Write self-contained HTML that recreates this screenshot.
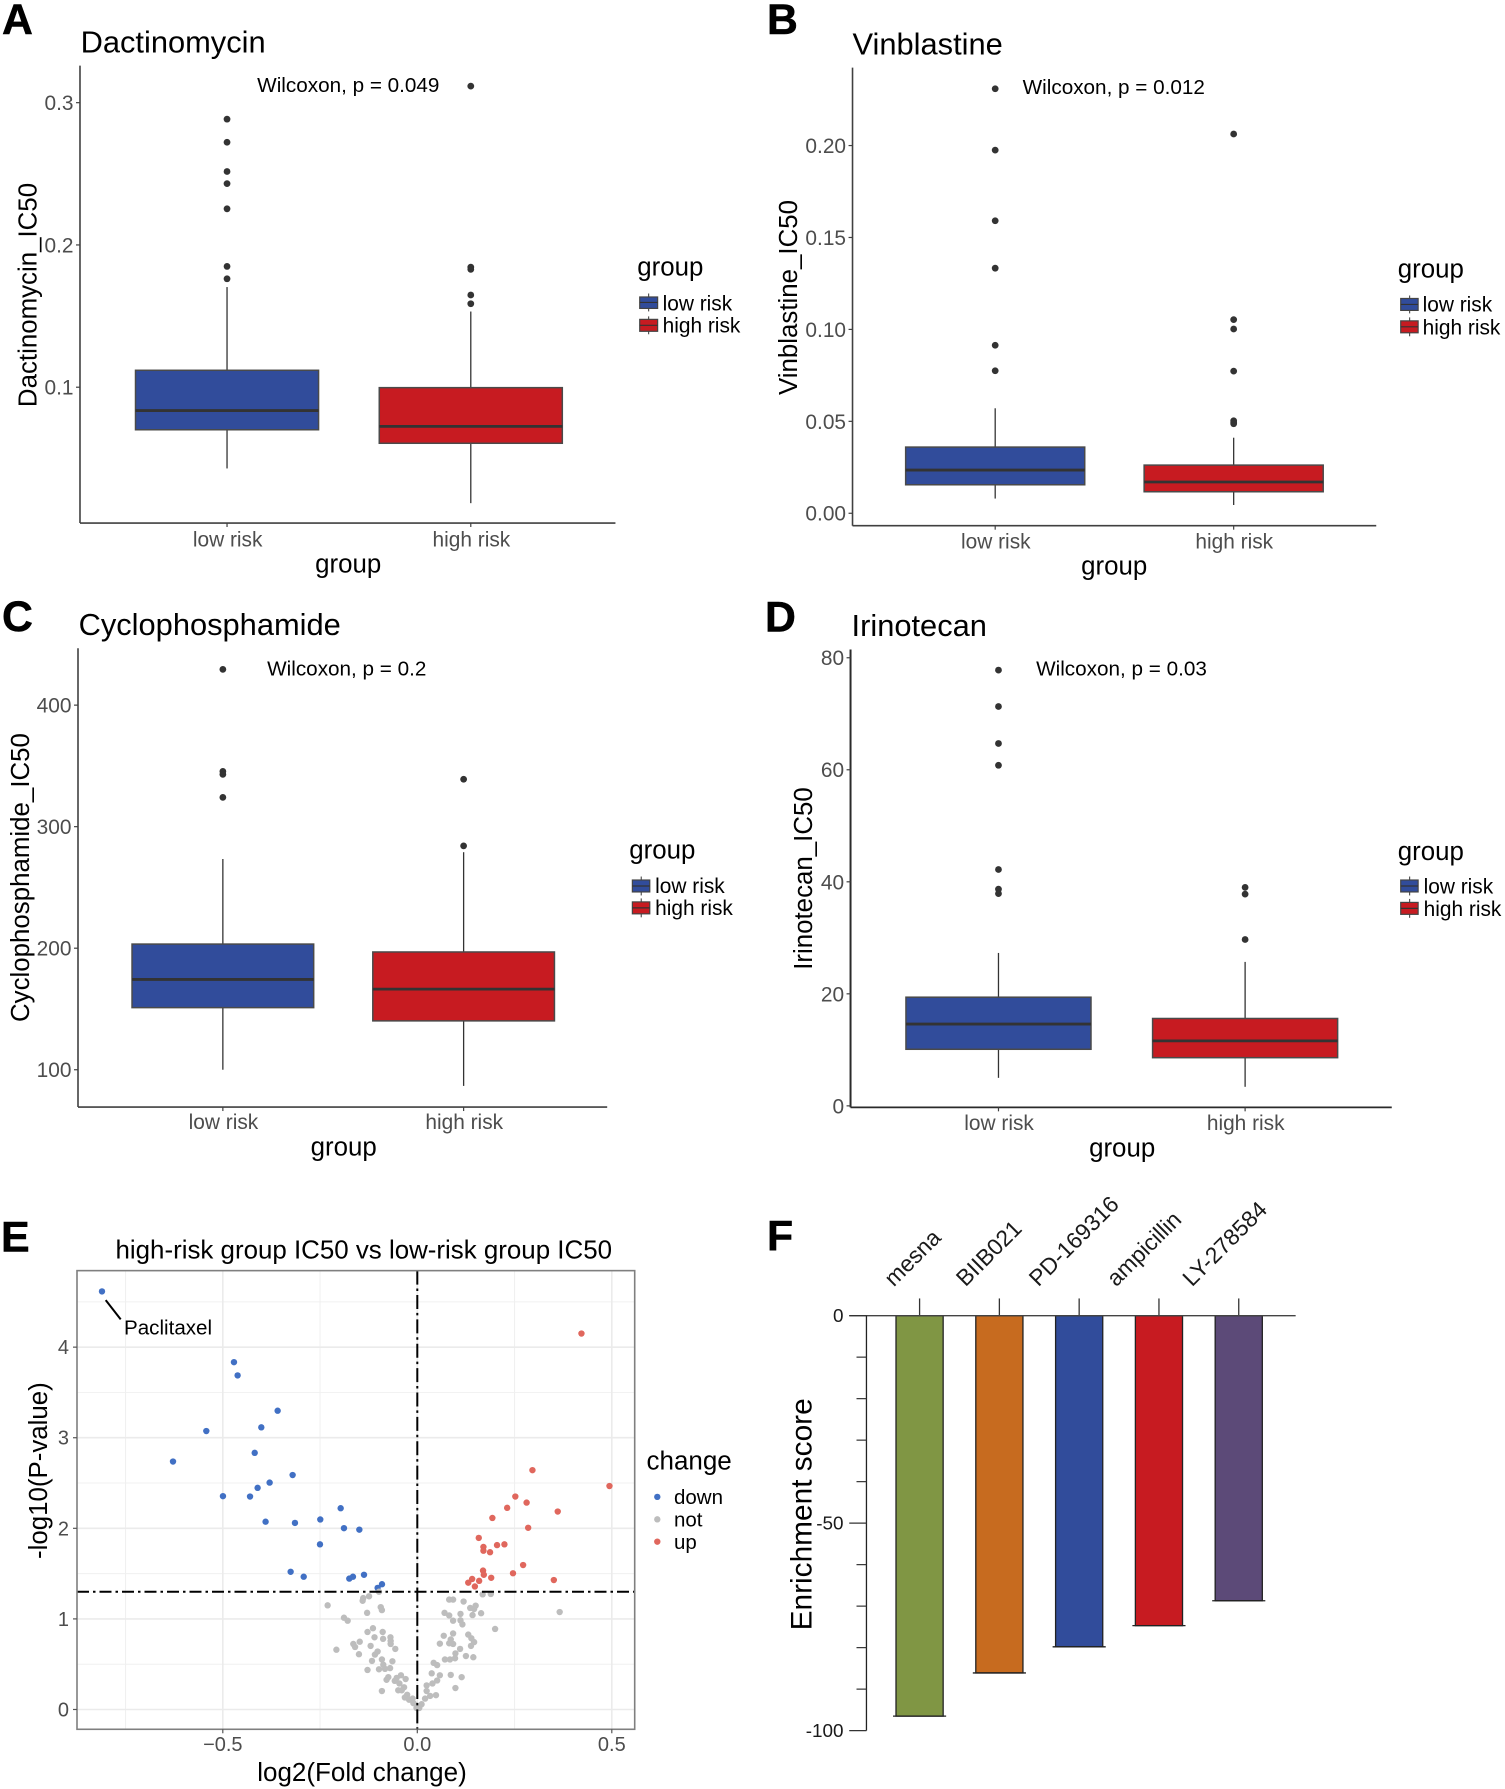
<!DOCTYPE html>
<html lang="en">
<head>
<meta charset="utf-8">
<title>Drug sensitivity panels</title>
<style>
html,body{margin:0;padding:0;background:#fff}
svg{display:block}
text{font-family:"Liberation Sans",Arial,sans-serif;fill:#000}
.letter{font-size:43px;font-weight:bold;stroke:#000;stroke-width:.5}
.title{font-size:31px}
.axt{font-size:26px}
.wil{font-size:20.8px}
.leg{font-size:21px}
.legt{font-size:26px}
.ax{stroke:#404040;stroke-width:1.6;fill:none}
</style>
</head>
<body>
<svg id="figure" xmlns="http://www.w3.org/2000/svg" width="1505" height="1789" viewBox="0 0 1505 1789">
<rect x="0" y="0" width="1505" height="1789" fill="#fff"/>

<!-- Panel A -->
<g transform="scale(0.9949)">
<text class="letter" x="2" y="34">A</text>
<text class="title" x="81" y="53">Dactinomycin</text>
<text class="wil" x="258.5" y="92.7">Wilcoxon, p = 0.049</text>
<line class="ax" x1="80.4" y1="66" x2="80.4" y2="525.7"/>
<line class="ax" x1="80.4" y1="525.7" x2="618.6" y2="525.7"/>
<text class="axt" x="350" y="575.5" text-anchor="middle">group</text>
<text class="axt" transform="translate(36.5,296.5) rotate(-90)" text-anchor="middle">Dactinomycin_IC50</text>
<g id="marks-a"></g>
<g>
<text class="legt" x="640.5" y="277">group</text>
<g><line x1="652" y1="295" x2="652" y2="313" stroke="#333" stroke-width="1"/><rect x="643" y="298.5" width="18" height="11.5" fill="#314c9b" stroke="#444" stroke-width="1.2"/><line x1="643" y1="304" x2="661" y2="304" stroke="#333" stroke-width="1.2"/></g>
<text class="leg" x="666" y="312">low risk</text>
<g><line x1="652" y1="318" x2="652" y2="336" stroke="#333" stroke-width="1"/><rect x="643" y="321" width="18" height="12" fill="#c71b21" stroke="#444" stroke-width="1.2"/><line x1="643" y1="327" x2="661" y2="327" stroke="#333" stroke-width="1.2"/></g>
<text class="leg" x="666" y="334">high risk</text>
</g>
</g>

<!-- Panel B -->
<g transform="translate(760,0) scale(0.9949) translate(-760,0)">
<text class="letter" x="767" y="34">B</text>
<text class="title" x="853" y="54.8">Vinblastine</text>
<text class="wil" x="1024" y="94.5">Wilcoxon, p = 0.012</text>
<line class="ax" x1="853" y1="68" x2="853" y2="528.4"/>
<line class="ax" x1="853" y1="528.4" x2="1379.4" y2="528.4"/>
<text class="axt" x="1116" y="577.5" text-anchor="middle">group</text>
<text class="axt" transform="translate(797,299) rotate(-90)" text-anchor="middle">Vinblastine_IC50</text>
<g id="marks-b"></g>
<g>
<text class="legt" x="1401" y="279">group</text>
<g><line x1="1413" y1="297" x2="1413" y2="315" stroke="#333" stroke-width="1"/><rect x="1404" y="300" width="17.5" height="12" fill="#314c9b" stroke="#444" stroke-width="1.2"/><line x1="1404" y1="306" x2="1421.5" y2="306" stroke="#333" stroke-width="1.2"/></g>
<text class="leg" x="1426" y="313">low risk</text>
<g><line x1="1413" y1="319" x2="1413" y2="338" stroke="#333" stroke-width="1"/><rect x="1404" y="322.5" width="17.5" height="12" fill="#c71b21" stroke="#444" stroke-width="1.2"/><line x1="1404" y1="328.5" x2="1421.5" y2="328.5" stroke="#333" stroke-width="1.2"/></g>
<text class="leg" x="1426" y="336">high risk</text>
</g>
</g>

<!-- Panel C -->
<g transform="translate(0,590) scale(0.9949) translate(0,-590)">
<text class="letter" x="2" y="631">C</text>
<text class="title" x="79" y="635.4">Cyclophosphamide</text>
<text class="wil" x="268.5" y="675.9">Wilcoxon, p = 0.2</text>
<line class="ax" x1="78.4" y1="648.6" x2="78.4" y2="1109.7"/>
<line class="ax" x1="78.4" y1="1109.7" x2="610.3" y2="1109.7"/>
<text class="axt" x="345.5" y="1158.5" text-anchor="middle">group</text>
<text class="axt" transform="translate(29,879) rotate(-90)" text-anchor="middle">Cyclophosphamide_IC50</text>
<g id="marks-c"></g>
<g>
<text class="legt" x="632.5" y="860">group</text>
<g><line x1="644.5" y1="878" x2="644.5" y2="897" stroke="#333" stroke-width="1"/><rect x="635.6" y="881.5" width="17.5" height="12" fill="#314c9b" stroke="#444" stroke-width="1.2"/><line x1="635.6" y1="887.5" x2="653" y2="887.5" stroke="#333" stroke-width="1.2"/></g>
<text class="leg" x="658.5" y="894.5">low risk</text>
<g><line x1="644.5" y1="900" x2="644.5" y2="919" stroke="#333" stroke-width="1"/><rect x="635.6" y="903.5" width="17.5" height="12" fill="#c71b21" stroke="#444" stroke-width="1.2"/><line x1="635.6" y1="909.5" x2="653" y2="909.5" stroke="#333" stroke-width="1.2"/></g>
<text class="leg" x="658.5" y="916.8">high risk</text>
</g>
</g>

<!-- Panel D -->
<g transform="translate(760,590) scale(0.9949) translate(-760,-590)">
<text class="letter" x="765" y="631.6">D</text>
<text class="title" x="852" y="636">Irinotecan</text>
<text class="wil" x="1037.5" y="676">Wilcoxon, p = 0.03</text>
<line class="ax" style="stroke:#2a2a2a;stroke-width:2" x1="851" y1="649.8" x2="851" y2="1110"/>
<line class="ax" style="stroke:#2a2a2a;stroke-width:1.8" x1="851" y1="1110" x2="1395" y2="1110"/>
<text class="axt" x="1124" y="1159.5" text-anchor="middle">group</text>
<text class="axt" transform="translate(812.5,880) rotate(-90)" text-anchor="middle">Irinotecan_IC50</text>
<g id="marks-d"></g>
<g>
<text class="legt" x="1401" y="861.4">group</text>
<g><line x1="1413" y1="878" x2="1413" y2="897" stroke="#333" stroke-width="1"/><rect x="1404" y="881.5" width="17.5" height="12" fill="#314c9b" stroke="#444" stroke-width="1.2"/><line x1="1404" y1="887.5" x2="1421.5" y2="887.5" stroke="#333" stroke-width="1.2"/></g>
<text class="leg" x="1427" y="895">low risk</text>
<g><line x1="1413" y1="900.5" x2="1413" y2="919.5" stroke="#333" stroke-width="1"/><rect x="1404" y="904" width="17.5" height="12" fill="#c71b21" stroke="#444" stroke-width="1.2"/><line x1="1404" y1="910" x2="1421.5" y2="910" stroke="#333" stroke-width="1.2"/></g>
<text class="leg" x="1427" y="917.5">high risk</text>
</g>
</g>

<!-- Panel E -->
<g transform="translate(0,1200) scale(1,0.9949) translate(0,-1200)">
<text class="letter" x="1" y="1252">E</text>
<text x="115.5" y="1258.6" font-size="25.9">high-risk group IC50 vs low-risk group IC50</text>
<g id="marks-e"></g>
<line x1="105.7" y1="1300.6" x2="120.7" y2="1320" stroke="#000" stroke-width="2"/>
<text x="124" y="1335" font-size="20.6">Paclitaxel</text>
<text class="axt" x="362" y="1784" text-anchor="middle">log2(Fold change)</text>
<text class="axt" transform="translate(47,1472) rotate(-90)" text-anchor="middle">-log10(P-value)</text>
<g>
<text class="axt" x="646.5" y="1471">change</text>
<circle cx="657.3" cy="1498.4" r="3.2" fill="#4170c4"/>
<text x="674" y="1505.6" font-size="20.5">down</text>
<circle cx="657.3" cy="1521" r="3.2" fill="#bdbdbd"/>
<text x="674" y="1528.3" font-size="20.5">not</text>
<circle cx="657.3" cy="1543.4" r="3.2" fill="#e0675d"/>
<text x="674" y="1551" font-size="20.5">up</text>
</g>
</g>

<!-- Panel F -->
<g transform="translate(760,1190) scale(0.9949) translate(-760,-1190)">
<text class="letter" x="767" y="1251">F</text>
<text transform="translate(812,1516) rotate(-90)" font-size="30" text-anchor="middle">Enrichment score</text>
<g id="marks-f"></g>
</g>
</svg>

<script>
// Panel A values: [whisker low, q1, median, q3, whisker high]
const dactinomycinLow = [0.0429, 0.0701, 0.0836, 0.1119, 0.1704];
const dactinomycinHigh = [0.0185, 0.0606, 0.0725, 0.0997, 0.1532];
const dactinomycinLowOutliers = [0.2884, 0.2722, 0.2516, 0.2431, 0.2254, 0.1849, 0.1762];
const dactinomycinHighOutliers = [0.3116, 0.1844, 0.1828, 0.1648, 0.1587];
const dactinomycinTicks = [0.1, 0.2, 0.3];
const dactinomycinTickLabels = ["0.1", "0.2", "0.3"];

// Panel B values
const vinblastineLow = [0.008, 0.0155, 0.0235, 0.036, 0.0571];
const vinblastineHigh = [0.0045, 0.0117, 0.017, 0.0262, 0.0411];
const vinblastineLowOutliers = [0.2309, 0.1975, 0.1591, 0.1333, 0.0914, 0.0775];
const vinblastineHighOutliers = [0.2063, 0.1053, 0.1002, 0.0773, 0.0503, 0.0495, 0.0487];
const vinblastineTicks = [0, 0.05, 0.1, 0.15, 0.2];
const vinblastineTickLabels = ["0.00", "0.05", "0.10", "0.15", "0.20"];

// Panel C values
const cyclophosphamideLow = [100, 151.1, 174.3, 203.4, 273.4];
const cyclophosphamideHigh = [86.7, 140.2, 166.3, 196.9, 279];
const cyclophosphamideLowOutliers = [429.4, 345.5, 343, 324.1];
const cyclophosphamideHighOutliers = [339, 284.2];
const cyclophosphamideTicks = [100, 200, 300, 400];
const cyclophosphamideTickLabels = ["100", "200", "300", "400"];

// Panel D values
const irinotecanLow = [5, 10.1, 14.6, 19.4, 27.3];
const irinotecanHigh = [3.4, 8.6, 11.6, 15.6, 25.7];
const irinotecanLowOutliers = [77.8, 71.3, 64.7, 60.8, 42.2, 38.7, 37.9];
const irinotecanHighOutliers = [39, 37.8, 29.7];
const irinotecanTicks = [0, 20, 40, 60, 80];
const irinotecanTickLabels = ["0", "20", "40", "60", "80"];

const groupCategories = ["low risk", "high risk"];

// Panel E values
const downFoldChange = [-0.8106,-0.4713,-0.4619,-0.359,-0.5424,-0.401,-0.418,-0.628,-0.3205,-0.3796,-0.4105,-0.43,-0.4996,-0.39,-0.3145,-0.2494,-0.197,-0.1885,-0.149,-0.2502,-0.3256,-0.292,-0.1748,-0.1654,-0.137,-0.102,-0.0908];
const downLogP = [4.615,3.834,3.688,3.298,3.074,3.115,2.833,2.737,2.588,2.505,2.447,2.351,2.355,2.073,2.06,2.098,2.222,2.002,1.985,1.823,1.52,1.466,1.445,1.466,1.487,1.342,1.383];
const upFoldChange = [0.422,0.494,0.296,0.252,0.281,0.231,0.361,0.193,0.285,0.158,0.17,0.17,0.187,0.205,0.224,0.272,0.246,0.169,0.171,0.19,0.351,0.159,0.141,0.131,0.148];
const upLogP = [4.15,2.467,2.642,2.351,2.284,2.226,2.185,2.114,2.006,1.894,1.794,1.753,1.736,1.815,1.823,1.595,1.504,1.533,1.487,1.454,1.429,1.42,1.441,1.4,1.358];
const notFoldChange = [-0.2305,-0.1885,-0.179,-0.208,-0.1405,-0.139,-0.124,-0.0985,-0.094,-0.091,-0.129,-0.114,-0.128,-0.089,-0.11,-0.088,-0.069,-0.0685,-0.0685,-0.0566,-0.148,-0.1645,-0.16,-0.12,-0.15,-0.102,-0.109,-0.1165,-0.091,-0.064,-0.128,-0.0985,-0.0874,-0.083,-0.07,-0.091,-0.0745,-0.079,-0.058,-0.053,-0.042,-0.03,-0.046,-0.034,-0.049,-0.04,-0.026,-0.032,-0.021,-0.012,-0.01,-0.002,0.082,0.092,0.119,0.168,0.189,0.15,0.136,0.146,0.07,0.082,0.111,0.164,0.142,0.366,0.092,0.111,0.116,0.2,0.068,0.092,0.131,0.139,0.146,0.138,0.058,0.082,0.086,0.092,0.11,0.098,0.125,0.144,0.071,0.084,0.097,0.042,0.051,0.037,0.058,0.086,0.114,0.051,0.039,0.024,0.098,0.024,0.048,0.033,0.02,0.011,0.005];
const notLogP = [1.15,1.013,0.98,0.66,1.2,1.23,1.25,1.3,1.13,1.097,1.067,0.897,0.856,0.856,0.797,0.78,0.797,0.756,0.723,0.669,0.748,0.723,0.69,0.702,0.61,0.64,0.606,0.536,0.552,0.532,0.436,0.444,0.494,0.449,0.457,0.204,0.357,0.328,0.316,0.349,0.378,0.336,0.287,0.245,0.212,0.212,0.162,0.133,0.108,0.12,0.07,0.017,1.213,1.213,1.192,1.271,1.275,1.146,1.121,1.109,1.067,1.038,1.055,1.063,1.042,1.076,0.98,0.984,0.939,0.889,0.814,0.839,0.827,0.786,0.744,0.702,0.727,0.731,0.773,0.723,0.669,0.619,0.59,0.577,0.552,0.552,0.565,0.515,0.49,0.399,0.378,0.382,0.357,0.32,0.287,0.266,0.237,0.204,0.158,0.15,0.12,0.058,0.017];
const volcanoXTicks = [-0.5, 0, 0.5];
const volcanoXTickLabels = ["\u22120.5", "0.0", "0.5"];
const volcanoXMinorTicks = [-0.75, -0.25, 0.25];
const volcanoYTicks = [0, 1, 2, 3, 4];
const volcanoYTickLabels = ["0", "1", "2", "3", "4"];
const volcanoYMinorTicks = [0.5, 1.5, 2.5, 3.5, 4.5];
const pValueThreshold = 1.3;

// Panel F values
const drugNames = ["mesna", "BIIB021", "PD-169316", "ampicillin", "LY-278584"];
const enrichmentScores = [-96.5, -86.1, -79.8, -74.7, -68.7];
const enrichmentTicks = [0, -10, -20, -30, -40, -50, -60, -70, -80, -90, -100];
const enrichmentTickLabels = ["0", "", "", "", "", "-50", "", "", "", "", "-100"];

const SVGNS = "http://www.w3.org/2000/svg";
function mk(tag, attrs, parent, name) {
  const el = document.createElementNS(SVGNS, tag);
  for (const k in attrs) el.setAttribute(k, attrs[k]);
  
  
  parent.appendChild(el);
  return el;
}
function slug(s) { return String(s).toLowerCase().replace(/[^a-z0-9]+/g, '-'); }

const FILLS = ["#314c9b", "#c71b21"];

function drawBoxPanel(p) {
  const g = document.getElementById(p.id);
  const y = v => p.y0 - (v - p.v0) * p.k;
  const x = i => p.x0 + i * p.dx;
  p.ticks.forEach((t, i) => {
    mk('line', {x1: p.axisX - 4, x2: p.axisX, y1: y(t), y2: y(t), stroke: '#404040', 'stroke-width': 1.2}, g, 'y-tick-' + slug(t));
    const lb = mk('text', {x: p.axisX - 6.5, y: y(t) + 7.5, 'text-anchor': 'end', 'font-size': 21, style: 'fill:#4d4d4d'}, g, 'y-tick-label-' + slug(t));
    lb.textContent = p.labels[i];
  });
  groupCategories.forEach((c, i) => {
    const cx = x(i), s = p.stats[i], hw = p.boxW / 2;
    mk('line', {x1: cx, x2: cx, y1: p.bottom, y2: p.bottom + 4, stroke: '#404040', 'stroke-width': 1.2}, g, 'x-tick-' + slug(c));
    const lb = mk('text', {x: cx + 0.6, y: p.labelY + 1.2, 'text-anchor': 'middle', 'font-size': 21, style: 'fill:#4d4d4d'}, g, 'x-tick-label-' + slug(c));
    lb.textContent = c;
    mk('line', {x1: cx, x2: cx, y1: y(s[0]), y2: y(s[1]), stroke: '#333', 'stroke-width': 1.3}, g, 'whisker-low-' + slug(c));
    mk('line', {x1: cx, x2: cx, y1: y(s[3]), y2: y(s[4]), stroke: '#333', 'stroke-width': 1.3}, g, 'whisker-high-' + slug(c));
    mk('rect', {x: cx - hw, y: y(s[3]), width: p.boxW, height: y(s[1]) - y(s[3]), fill: FILLS[i], stroke: '#4a4a4a', 'stroke-width': 1.5}, g, 'box-' + slug(c));
    mk('line', {x1: cx - hw, x2: cx + hw, y1: y(s[2]), y2: y(s[2]), stroke: '#333', 'stroke-width': 2.8}, g, 'median-' + slug(c));
    p.outliers[i].forEach(v => {
      mk('circle', {cx: cx, cy: y(v), r: 3.4, fill: '#333'}, g, 'outlier-' + slug(c));
    });
  });
}

drawBoxPanel({id: 'marks-a', y0: 389.2, v0: 0.1, k: 1430, x0: 228.2, dx: 245, boxW: 184, axisX: 80.4, bottom: 525.7, labelY: 548,
  ticks: dactinomycinTicks, labels: dactinomycinTickLabels, stats: [dactinomycinLow, dactinomycinHigh], outliers: [dactinomycinLowOutliers, dactinomycinHighOutliers]});
drawBoxPanel({id: 'marks-b', y0: 515.9, v0: 0, k: 1848, x0: 996.4, dx: 239.7, boxW: 180, axisX: 853, bottom: 528.4, labelY: 550,
  ticks: vinblastineTicks, labels: vinblastineTickLabels, stats: [vinblastineLow, vinblastineHigh], outliers: [vinblastineLowOutliers, vinblastineHighOutliers]});
drawBoxPanel({id: 'marks-c', y0: 1072.2, v0: 100, k: 1.2216, x0: 224, dx: 242, boxW: 182.6, axisX: 78.4, bottom: 1109.7, labelY: 1130.8,
  ticks: cyclophosphamideTicks, labels: cyclophosphamideTickLabels, stats: [cyclophosphamideLow, cyclophosphamideHigh], outliers: [cyclophosphamideLowOutliers, cyclophosphamideHighOutliers]});
drawBoxPanel({id: 'marks-d', y0: 1108.5, v0: 0, k: 5.63, x0: 999.7, dx: 247.9, boxW: 186, axisX: 851, bottom: 1110, labelY: 1131.6,
  ticks: irinotecanTicks, labels: irinotecanTickLabels, stats: [irinotecanLow, irinotecanHigh], outliers: [irinotecanLowOutliers, irinotecanHighOutliers]});

// Volcano plot
(function () {
  const g = document.getElementById('marks-e');
  const L = 77, R = 634.7, T = 1271, B = 1732;
  const x = v => 417.3 + v * 389;
  const y = v => 1712.1 - v * 91.05;
  volcanoYMinorTicks.forEach(t => {
    mk('line', {x1: L, x2: R, y1: y(t), y2: y(t), stroke: '#f0f0f0', 'stroke-width': 1}, g, 'grid-minor-y');
  });
  volcanoXMinorTicks.forEach(t => {
    mk('line', {x1: x(t), x2: x(t), y1: T, y2: B, stroke: '#f0f0f0', 'stroke-width': 1}, g, 'grid-minor-x');
  });
  volcanoYTicks.forEach(t => {
    mk('line', {x1: L, x2: R, y1: y(t), y2: y(t), stroke: '#ebebeb', 'stroke-width': 1.6}, g, 'grid-major-y');
  });
  volcanoXTicks.forEach(t => {
    mk('line', {x1: x(t), x2: x(t), y1: T, y2: B, stroke: '#ebebeb', 'stroke-width': 1.6}, g, 'grid-major-x');
  });
  const series = [
    [downFoldChange, downLogP, '#4170c4', 'point-down'],
    [notFoldChange, notLogP, '#bdbdbd', 'point-not'],
    [upFoldChange, upLogP, '#e0675d', 'point-up']
  ];
  series.forEach(s => {
    s[0].forEach((fc, i) => {
      mk('circle', {cx: x(fc), cy: y(s[1][i]), r: 3.2, fill: s[2]}, g, s[3]);
    });
  });
  mk('line', {x1: L, x2: R, y1: y(pValueThreshold), y2: y(pValueThreshold), stroke: '#000', 'stroke-width': 2, 'stroke-dasharray': '12 4 2.5 4'}, g, 'threshold-line-p-value');
  mk('line', {x1: x(0), x2: x(0), y1: T, y2: B, stroke: '#000', 'stroke-width': 2, 'stroke-dasharray': '14 4 2.5 4'}, g, 'threshold-line-fold-change');
  mk('rect', {x: L, y: T, width: R - L, height: B - T, fill: 'none', stroke: '#7f7f7f', 'stroke-width': 1.6}, g, 'plot-border');
  volcanoXTicks.forEach((t, i) => {
    mk('line', {x1: x(t), x2: x(t), y1: B, y2: B + 4, stroke: '#555', 'stroke-width': 1.2}, g, 'x-tick');
    const lb = mk('text', {x: x(t), y: 1754, 'text-anchor': 'middle', 'font-size': 20, style: 'fill:#4d4d4d'}, g, 'x-tick-label');
    lb.textContent = volcanoXTickLabels[i];
  });
  volcanoYTicks.forEach((t, i) => {
    mk('line', {x1: L - 4, x2: L, y1: y(t), y2: y(t), stroke: '#555', 'stroke-width': 1.2}, g, 'y-tick');
    const lb = mk('text', {x: 69, y: y(t) + 7, 'text-anchor': 'end', 'font-size': 20, style: 'fill:#4d4d4d'}, g, 'y-tick-label');
    lb.textContent = volcanoYTickLabels[i];
  });
})();

// Bar chart
(function () {
  const g = document.getElementById('marks-f');
  const COLORS = ['#809644', '#c76b1f', '#314c9b', '#c71b21', '#5c4a78'];
  const labelShifts = [-26, -34, -41, -43, -47];
  const y = v => 1316.3 - v * 4.171;
  const x = i => 920.4 + i * 80.2;
  const bw = 47.4;
  drugNames.forEach((d, i) => {
    const cx = x(i);
    mk('rect', {x: cx - bw / 2, y: y(0), width: bw, height: y(enrichmentScores[i]) - y(0), fill: COLORS[i], stroke: '#222', 'stroke-width': 1.3}, g, 'bar-' + slug(d));
    mk('line', {x1: cx - 26.7, x2: cx + 26.7, y1: y(enrichmentScores[i]), y2: y(enrichmentScores[i]), stroke: '#222', 'stroke-width': 1.3}, g, 'bar-cap-' + slug(d));
    mk('line', {x1: cx, x2: cx, y1: 1299, y2: y(0), stroke: '#333', 'stroke-width': 1.3}, g, 'x-tick-' + slug(d));
    const ox = cx + labelShifts[i], oy = 1288;
    const lb = mk('text', {transform: 'translate(' + ox + ',' + oy + ') rotate(-45)', 'font-size': 23, style: 'fill:#1a1a1a'}, g, 'x-tick-label-' + slug(d));
    lb.textContent = d;
  });
  mk('line', {x1: 849.7, x2: 1298.4, y1: y(0), y2: y(0), stroke: '#444', 'stroke-width': 1.4}, g, 'zero-line');
  mk('line', {x1: 867, x2: 867, y1: y(0), y2: y(-100), stroke: '#222', 'stroke-width': 1.3}, g, 'y-axis-line');
  enrichmentTicks.forEach((t, i) => {
    const major = enrichmentTickLabels[i] !== "";
    mk('line', {x1: major ? 849.7 : 857, x2: 867, y1: y(t), y2: y(t), stroke: '#333', 'stroke-width': 1.2}, g, 'y-tick-' + slug(t));
    if (major) {
      const lb = mk('text', {x: 844, y: y(t) + 6.5, 'text-anchor': 'end', 'font-size': 19, style: 'fill:#1a1a1a'}, g, 'y-tick-label-' + slug(t));
      lb.textContent = enrichmentTickLabels[i];
    }
  });
})();
</script>
</body>
</html>
